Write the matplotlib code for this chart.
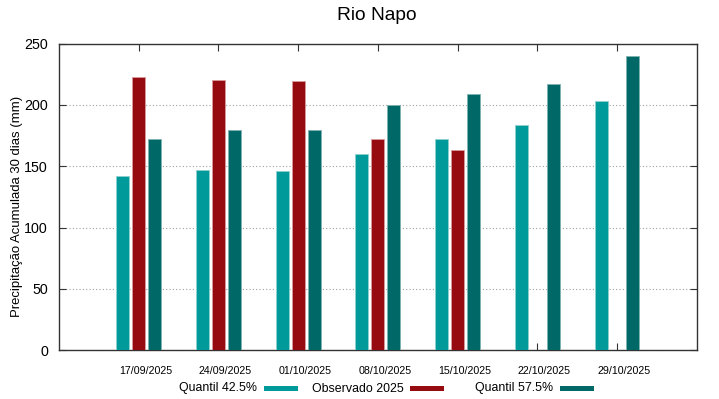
import matplotlib
matplotlib.use("Agg")
import matplotlib.pyplot as plt
import matplotlib.transforms as mtransforms
import numpy as np
from matplotlib.patches import Rectangle

plt.rcParams["font.family"] = ["Liberation Sans", "DejaVu Sans"]

dates = ["17/09/2025", "24/09/2025", "01/10/2025", "08/10/2025",
         "15/10/2025", "22/10/2025", "29/10/2025"]
q425 = [142.3, 146.9, 146.1, 160.0, 172.2, 183.4, 203.4]
obs2025 = [223.0, 220.5, 219.2, 172.2, 163.2, np.nan, np.nan]
q575 = [172.2, 179.5, 179.5, 199.9, 208.9, 217.3, 239.6]

labels = ["Quantil 42.5%", "Observado 2025", "Quantil 57.5%"]
colors = ["#009a9a", "#960b0f", "#006866"]
edges = ["#8fd0d0", "#d89a9c", "#7fb3b2"]

W, H = 719, 399
fig = plt.figure(figsize=(W / 100, H / 100), dpi=100)
ax = fig.add_axes([59 / W, 1 - 350.3 / H, 637.7 / W, 306.7 / H])

x = np.arange(1, len(dates) + 1)
w = 0.163
for i, (vals, c, e) in enumerate(zip([q425, obs2025, q575], colors, edges)):
    ax.bar(x + (i - 1) * 0.2, vals, width=w, color=c, edgecolor=e,
           linewidth=0.6, zorder=3)

ax.set_xlim(0, 8)
ax.set_ylim(0, 250)
ax.set_xticks(x)
ax.set_xticklabels(dates, fontsize=7.7)
ax.set_yticks([0, 50, 100, 150, 200, 250])
ax.tick_params(axis="y", labelsize=10.3, direction="in", length=5,
               right=True, pad=8, color="#333333")
ax.tick_params(axis="x", direction="in", length=5, top=True, pad=11,
               color="#333333")
# gnuplot puts the date labels a little right of the tick
shift = mtransforms.ScaledTranslation(7 / 100, 0, fig.dpi_scale_trans)
for lab in ax.get_xticklabels():
    lab.set_transform(lab.get_transform() + shift)
ax.yaxis.grid(True, linestyle=(0, (1, 2)), color="#a0a0a0", linewidth=0.8,
              zorder=0)
for s in ax.spines.values():
    s.set_color("#333333")
    s.set_linewidth(1.0)

fig.text(17.5 / W, 1 - 206 / H, "Precipitação Acumulada 30 dias (mm)",
         rotation=90, ha="center", va="center", fontsize=9.45)
fig.text(377 / W, 1 - 16 / H, "Rio Napo", ha="center", va="center",
         fontsize=13.8)

# legend row at the bottom, text followed by a colour swatch
text_right = [256.7, 403.3, 552.7]
for lab, c, xr in zip(labels, colors, text_right):
    fig.text(xr / W, 1 - 391.5 / H, lab, ha="right", va="baseline",
             fontsize=8.9)
    fig.add_artist(Rectangle(((xr + 7) / W, 1 - 391 / H), 34 / W, 5.5 / H,
                             transform=fig.transFigure, color=c, lw=0))

fig.savefig("out.png", dpi=100)
